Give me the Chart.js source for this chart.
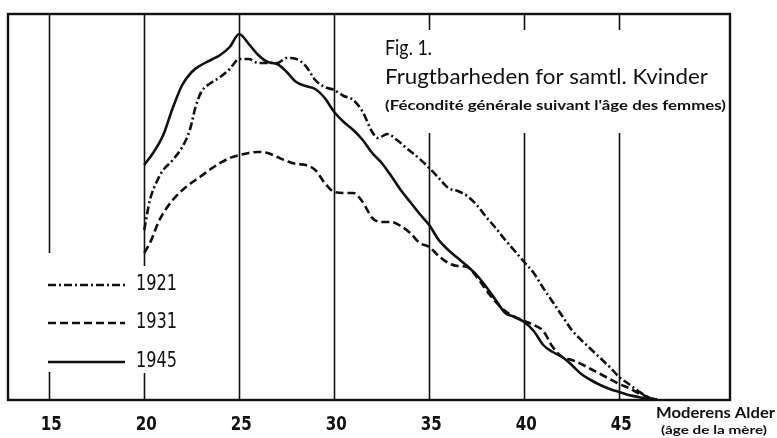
<!DOCTYPE html>
<html>
<head>
<meta charset="utf-8">
<script src="https://cdn.jsdelivr.net/npm/chart.js@4.4.1/dist/chart.umd.min.js"></script>
<style>
  html, body { margin: 0; padding: 0; background: #fff; }
  #wrap { width: 777px; height: 438px; position: relative; }
</style>
</head>
<body>
<div id="wrap"><canvas id="myChart" width="777" height="438"></canvas></div>
<script>
// mother's age (years) and fertility (births per 1000 women)
const ages1921 = [20, 20.3, 20.7, 21, 21.5, 22, 22.4, 22.7, 23, 23.5, 24, 24.5, 25, 25.5, 26, 26.5, 27, 27.5, 28, 28.5,
                  29, 29.5, 30, 30.5, 31, 31.5, 32, 32.3, 32.8, 33.3, 33.8, 34.5, 35, 35.5, 36, 36.5, 37, 37.5, 38, 38.5,
                  39, 39.5, 40, 40.5, 41, 41.5, 42, 42.5, 43, 43.5, 44, 44.5, 45, 45.5, 46, 46.5, 47];
const fert1921 = [85, 100, 110, 115, 120, 126.5, 135, 146.5, 154, 158.5, 161.5, 165.5, 170.5, 170.5, 168.5, 168.5, 168.5, 171, 170.5, 167,
                  160, 156.5, 155, 152, 150, 144, 134, 131, 133, 130, 126, 120.5, 116, 111, 106, 104.5, 102, 97.5, 91.5, 86,
                  80, 74.5, 69, 63.5, 56, 49, 42, 35, 30, 25.5, 21, 16.5, 11.5, 8, 4.5, 1.5, 0];

const ages1931 = [20, 20.3, 20.8, 21.5, 22.2, 23, 23.5, 24, 24.5, 25, 25.5, 26, 26.5, 27, 27.5, 28, 28.5, 29, 29.5, 30,
                  30.5, 31, 31.5, 32, 32.5, 33, 33.5, 34, 34.5, 35, 35.5, 36, 36.5, 37, 37.5, 38, 38.5, 39, 39.5, 40,
                  40.5, 41, 41.5, 42, 42.5, 43, 43.5, 44, 44.5, 45, 45.5, 46, 46.5, 47];
const fert1931 = [73.5, 78.5, 90, 100, 106.5, 112, 115.5, 118.5, 121, 122.5, 123.5, 124, 123.5, 121.5, 119.5, 118, 117.5, 115, 108.5, 104,
                  103.5, 103.5, 99, 91, 89, 89, 87, 83.5, 78.5, 76.5, 72, 68.5, 67, 66.5, 61.5, 55, 49, 44.5, 41.5, 39.5,
                  37.5, 34.5, 26.5, 21.5, 20, 18, 15.5, 13, 10.5, 8, 6, 3.5, 1.5, 0];

const ages1945 = [20, 20.5, 21, 21.5, 22, 22.5, 23, 23.5, 24, 24.5, 25, 25.5, 26, 26.5, 27, 27.5, 28, 28.5, 29, 29.5,
                  30, 30.5, 31, 31.5, 32, 32.5, 33, 33.5, 34, 34.5, 35, 35.5, 36, 36.5, 37, 37.5, 38, 38.5, 39, 39.5,
                  40, 40.5, 41, 41.5, 42, 42.5, 43, 43.5, 44, 44.5, 45, 45.5, 46, 46.5, 47];
const fert1945 = [117.5, 124, 132.5, 146, 157.5, 164, 167.5, 170, 172.5, 176.5, 183, 178, 172.5, 169, 168, 164, 159, 157, 155.5, 151,
                  144, 139, 135, 130, 123.5, 118.5, 112, 105, 99, 93, 87.5, 80, 75, 71, 67, 62.5, 56.5, 50, 43.5, 41.5,
                  39, 34.5, 27.5, 24, 21.5, 17.5, 13, 10, 7.5, 5.5, 4, 2.5, 1.5, 0.5, 0];

const seriesNames = ["1921", "1931", "1945"];
const tickLabels = [15, 20, 25, 30, 35, 40, 45];

const NUMFONT = '"DejaVu Sans", sans-serif';
const TFONT = 'Lato, "Noto Sans", sans-serif';

function pts(xs, ys) {
  return xs.map((x, i) => ({ x: x, y: ys[i] }));
}

// draw text at a given font size, squeezed sideways to fill the given width
function squeezeText(ctx, text, x, y, width, size, weight, family, align) {
  ctx.save();
  ctx.font = weight + " " + size + "px " + family;
  const w = ctx.measureText(text).width;
  const k = width / w;
  let x0 = x;
  if (align === "center") x0 = x - width / 2;
  ctx.translate(x0, y);
  ctx.scale(k, 1);
  ctx.textAlign = "left";
  ctx.textBaseline = "middle";
  ctx.fillText(text, 0, 0);
  ctx.restore();
}

const dashes = [[8, 3, 2, 3], [8, 4], []];

const decor = {
  id: "decor",
  beforeDatasetsDraw(chart) {
    const ctx = chart.ctx;
    const xs = chart.scales.x;
    const a = chart.chartArea;
    // vertical guide lines, broken where the caption and the key sit
    const gaps = { 15: [253, 372], 20: [266, 373], 35: [30, 133], 40: [30, 133], 45: [30, 133] };
    ctx.save();
    ctx.strokeStyle = "#111";
    ctx.lineWidth = 1.6;
    tickLabels.forEach(t => {
      const px = Math.round(xs.getPixelForValue(t)) + 0.5;
      ctx.beginPath();
      if (gaps[t]) {
        ctx.moveTo(px, a.top); ctx.lineTo(px, gaps[t][0]);
        ctx.moveTo(px, gaps[t][1]); ctx.lineTo(px, a.bottom);
      } else {
        ctx.moveTo(px, a.top); ctx.lineTo(px, a.bottom);
      }
      ctx.stroke();
    });
    ctx.restore();
  },
  afterDraw(chart) {
    const ctx = chart.ctx;
    const xs = chart.scales.x;
    const a = chart.chartArea;
    ctx.save();
    // frame
    ctx.strokeStyle = "#111";
    ctx.lineWidth = 2.4;
    ctx.strokeRect(a.left, a.top, a.right - a.left, a.bottom - a.top);

    ctx.fillStyle = "#111";
    // tick labels
    tickLabels.forEach(t => {
      const px = xs.getPixelForValue(t) + 2;
      squeezeText(ctx, String(t), px, a.bottom + 25, 21, 20, "bold", NUMFONT, "center");
    });

    // key
    const keyY = [285, 323, 362];
    seriesNames.forEach((n, i) => {
      ctx.setLineDash(dashes[i]);
      ctx.lineWidth = 2.4;
      ctx.beginPath();
      ctx.moveTo(48, keyY[i]);
      ctx.lineTo(125, keyY[i]);
      ctx.stroke();
      ctx.setLineDash([]);
      squeezeText(ctx, n, 136, keyY[i], 41, 21, "normal", NUMFONT, "left");
    });

    // caption
    squeezeText(ctx, "Fig. 1.", 385, 48, 47, 21, "normal", TFONT);
    squeezeText(ctx, "Frugtbarheden for samtl. Kvinder", 385, 77, 323, 21, "normal", TFONT);
    squeezeText(ctx, "(Fécondité générale suivant l'âge des femmes)", 385, 105, 341, 14, "bold", TFONT);

    // axis title
    squeezeText(ctx, "Moderens Alder", 656, 413, 119, 15, "bold", TFONT);
    squeezeText(ctx, "(âge de la mère)", 661, 430, 106, 12, "bold", TFONT);
    ctx.restore();
  }
};

const lineStyle = (i) => ({
  borderColor: "#111",
  borderWidth: 2.6,
  borderDash: dashes[i],
  pointRadius: 0,
  tension: 0.4,
  cubicInterpolationMode: "monotone",
  fill: false
});

new Chart(document.getElementById("myChart"), {
  type: "line",
  data: {
    datasets: [
      Object.assign({ label: seriesNames[0], data: pts(ages1921, fert1921) }, lineStyle(0)),
      Object.assign({ label: seriesNames[1], data: pts(ages1931, fert1931) }, lineStyle(1)),
      Object.assign({ label: seriesNames[2], data: pts(ages1945, fert1945) }, lineStyle(2))
    ]
  },
  options: {
    responsive: false,
    animation: false,
    layout: { padding: { left: 8, top: 14, right: 47, bottom: 38 } },
    plugins: { legend: { display: false }, tooltip: { enabled: false } },
    scales: {
      x: { type: "linear", min: 12.83, max: 50.83, display: false },
      y: { min: 0, max: 193, display: false }
    }
  },
  plugins: [decor]
});
</script>
</body>
</html>
